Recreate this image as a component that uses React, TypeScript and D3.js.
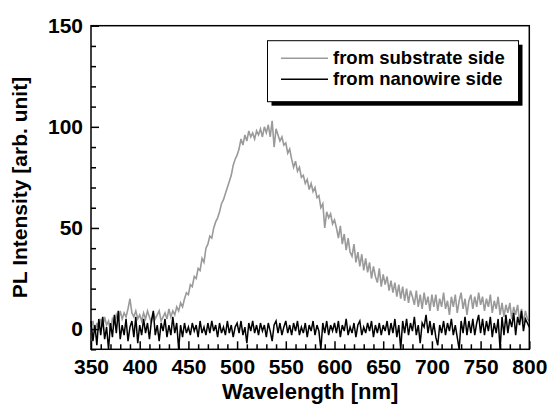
import { useRef, useEffect } from "react";
import * as d3 from "d3";

// wavelength grid: 350..800 nm, 2 nm step
const startNm = 350;
const stepNm = 2;

// PL spectrum measured from substrate side (gray)
const substrateSide = [
  // 350-378
  1, 4, -2, 3, 0, 5, 1, 6, 2, 4, -1, 5, 3, 7, 4,
  // 380-398
  9, 5, 8, 6, 10, 15, 8, 6, 9, 5,
  // 400-440
  7, 4, 8, 5, 9, 6, 3, 8, 5, 7, 9, 4, 6, 8, 5, 10, 6, 9, 7, 11, 9,
  // 442-500
  13, 11, 15, 18, 17, 22, 21, 26, 25, 30, 29, 35, 33, 40, 42,
  46, 45, 50, 53, 55, 58, 62, 64, 67, 70, 73, 76, 81, 84, 86,
  // 502-550
  89, 94, 91, 96, 93, 98, 95, 97, 94, 98, 96, 99, 95, 100, 97, 101, 95, 103, 90, 99, 96, 93, 95, 91, 92,
  // 552-600
  87, 89, 84, 80, 83, 78, 80, 75, 76, 72, 74, 69, 72, 68, 70, 65, 66, 60, 62, 50, 58, 55, 57, 52, 54,
  // 602-650
  50, 45, 51, 42, 47, 39, 45, 38, 36, 42, 33, 38, 31, 37, 29, 35, 28, 33, 25, 31, 26, 23, 30, 21, 27,
  // 652-700
  22, 26, 19, 24, 18, 23, 16, 22, 15, 21, 14, 20, 13, 19, 16, 12, 19, 11, 17, 10, 18, 12, 16, 9, 17,
  // 702-750
  11, 17, 9, 15, 11, 18, 10, 14, 7, 16, 11, 17, 8, 14, 18, 10, 15, 7, 14, 17, 10, 16, 11, 18, 12,
  // 752-800
  16, 9, 15, 11, 17, 8, 14, 10, 16, 7, 13, 6, 12, 8, 13, 5, 11, 7, 12, 4, 10, 3, 9, 5, 4,
];

// PL spectrum measured from nanowire side (black)
const nanowireSide = [
  // 350-398
  4, -6, 2, -8, 5, -3, 6, -5, 1, -10, 3, -4, 7, -2, 9, -5, 2, -3, 5, -6, 1, 4, -4, 6, -7,
  // 400-448
  2, -3, 5, -2, 3, -5, 4, 9, -3, 2, -6, 3, -1, 5, -4, 2, -3, 6, -2, 3, -10, 2, -4, 3, -2,
  // 450-498
  1, -3, 3, -1, 2, -4, 4, -2, 1, -3, 3, -2, 4, -1, 2, -4, 3, -2, 1, -3, 4, -2, 2, -4, 1,
  // 500-548
  3, -2, 4, -3, 1, -7, 3, -1, 4, -2, 2, -3, 3, -1, 2, -4, 3, -1, -6, 2, 4, -2, 3, -3, 1,
  // 550-598
  4, -2, 2, -3, 3, -1, 4, -3, 1, -2, 3, -4, 2, -1, 4, -3, 2, -1, -10, 3, -2, 4, -3, 2, -1,
  // 600-648
  3, -2, 4, -4, 2, -1, 5, -3, 1, -2, 3, -4, 2, 4, -3, 1, -2, 3, -1, 4, -4, 2, -2, 3, -3,
  // 650-698
  2, -1, 4, -3, 3, -2, 5, -4, 2, -10, 4, -2, 5, -3, 3, -1, 6, -3, 2, -7, 3, 1, 7, -2, 4,
  // 700-748
  -3, 3, -4, -8, 2, -2, 4, -3, 3, -1, 5, -3, 2, -4, -10, 4, -2, 6, -3, 4, -2, 5, -3, 3, 7,
  // 750-798
  -2, 5, -3, 4, -1, 6, -4, 3, -2, 5, -10, 6, -3, 7, -2, 5, 1, 8, -3, 6, 2, 9, -1, 5, 3,
  // 800
  1,
];

const xMajor = [350, 400, 450, 500, 550, 600, 650, 700, 750, 800];
const yMajor = [0, 50, 100, 150];

const legendItems = [
  { label: "from substrate side", color: "#9a9a9a" },
  { label: "from nanowire side", color: "#000000" },
];

const FONT = "'Liberation Sans', Arial, Helvetica, sans-serif";

export default function App() {
  const svgRef = useRef<SVGSVGElement>(null);

  useEffect(() => {
    const width = 550;
    const height = 409;
    const left = 91;
    const right = 529.3;
    const top = 25.7;
    const bottom = 349.3;

    const svg = d3.select(svgRef.current).attr("width", width).attr("height", height);
    svg.selectAll("*").remove();

    const x = d3.scaleLinear().domain([350, 800]).range([left, right]);
    const y = d3.scaleLinear().domain([-10, 150]).range([bottom, top]);

    const toPoints = (vals: number[]) =>
      vals.map((v, i) => [startNm + i * stepNm, v] as [number, number]);

    const line = d3
      .line<[number, number]>()
      .x((d) => x(d[0]))
      .y((d) => y(d[1]));

    // spectra
    svg
      .append("path")
      .datum(toPoints(substrateSide))
      .attr("fill", "none")
      .attr("stroke", "#9a9a9a")
      .attr("stroke-width", 1.6)
      .attr("d", line);

    svg
      .append("path")
      .datum(toPoints(nanowireSide))
      .attr("fill", "none")
      .attr("stroke", "#000")
      .attr("stroke-width", 1.5)
      .attr("d", line);

    // minor ticks (inward)
    const xMinor = d3.range(360, 800, 10).filter((v) => v % 50 !== 0);
    const yMinor = d3.range(-10, 150, 10).filter((v) => v % 50 !== 0);

    const xAxisMinor = d3.axisBottom(x).tickValues(xMinor).tickSizeInner(-5).tickSizeOuter(0).tickFormat(() => "");
    const yAxisMinor = d3.axisLeft(y).tickValues(yMinor).tickSizeInner(-5).tickSizeOuter(0).tickFormat(() => "");

    const xAxis = d3
      .axisBottom(x)
      .tickValues(xMajor)
      .tickSizeInner(-8)
      .tickSizeOuter(0)
      .tickPadding(10)
      .tickFormat(d3.format("d"));
    const yAxis = d3
      .axisLeft(y)
      .tickValues(yMajor)
      .tickSizeInner(-8)
      .tickSizeOuter(0)
      .tickPadding(8)
      .tickFormat(d3.format("d"));

    const styleAxis = (g: d3.Selection<SVGGElement, unknown, null, undefined>) => {
      g.select(".domain").remove();
      g.selectAll("line").attr("stroke", "#000").attr("stroke-width", 1.5);
      g.selectAll("text")
        .attr("fill", "#000")
        .style("font-family", FONT)
        .style("font-size", "21px")
        .style("font-weight", "bold");
    };

    svg.append("g").attr("transform", `translate(0,${bottom})`).call(xAxisMinor).call(styleAxis);
    svg.append("g").attr("transform", `translate(${left},0)`).call(yAxisMinor).call(styleAxis);
    svg.append("g").attr("transform", `translate(0,${bottom})`).call(xAxis).call(styleAxis);
    svg.append("g").attr("transform", `translate(${left},0)`).call(yAxis).call(styleAxis);

    // frame
    svg
      .append("rect")
      .attr("x", left)
      .attr("y", top)
      .attr("width", right - left)
      .attr("height", bottom - top)
      .attr("fill", "none")
      .attr("stroke", "#000")
      .attr("stroke-width", 1.5);

    // legend
    const lg = svg.append("g");
    const bx = 267.5;
    const by = 40.7;
    const bw = 251;
    const bh = 61;
    lg.append("rect")
      .attr("x", bx + 4)
      .attr("y", by + 4)
      .attr("width", bw)
      .attr("height", bh)
      .attr("fill", "#000");
    lg.append("rect")
      .attr("x", bx)
      .attr("y", by)
      .attr("width", bw)
      .attr("height", bh)
      .attr("fill", "#fff")
      .attr("stroke", "#000")
      .attr("stroke-width", 1);

    legendItems.forEach((item, i) => {
      const ly = 58.3 + i * 21;
      lg.append("line")
        .attr("x1", 281)
        .attr("x2", 328)
        .attr("y1", ly)
        .attr("y2", ly)
        .attr("stroke", item.color)
        .attr("stroke-width", 1.5);
      lg.append("text")
        .attr("x", 333)
        .attr("y", ly + 6)
        .text(item.label)
        .style("font-family", FONT)
        .style("font-size", "18.5px")
        .style("font-weight", "bold");
    });

    // axis titles
    svg
      .append("text")
      .attr("x", (left + right) / 2)
      .attr("y", 399)
      .attr("text-anchor", "middle")
      .text("Wavelength [nm]")
      .style("font-family", FONT)
      .style("font-size", "22px")
      .style("font-weight", "bold");

    svg
      .append("text")
      .attr("transform", `translate(27,187.5) rotate(-90)`)
      .attr("text-anchor", "middle")
      .text("PL Intensity [arb. unit]")
      .style("font-family", FONT)
      .style("font-size", "21px")
      .style("font-weight", "bold");
  }, []);

  return (
    <svg
      ref={svgRef}
      style={{ position: "absolute", left: 0, top: 0, background: "#fff" }}
    />
  );
}
